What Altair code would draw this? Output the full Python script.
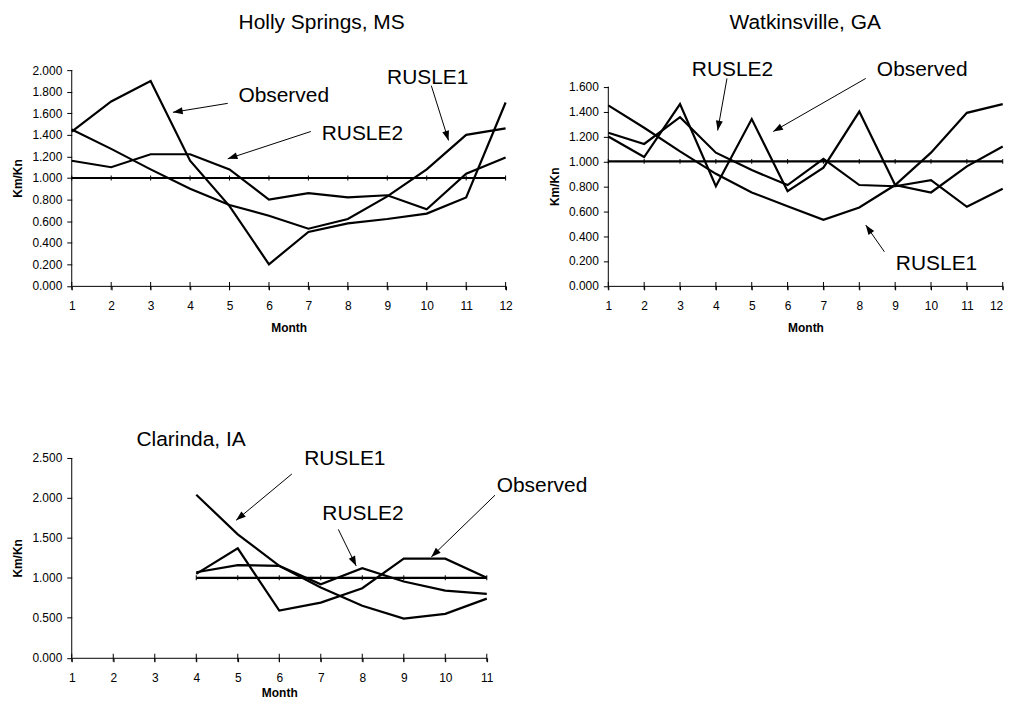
import math
import altair as alt
import pandas as pd

FONT = "Liberation Sans"
INK = "black"

# ---------------- Holly Springs, MS ----------------
hs_months = list(range(1, 13))
hs_observed = [1.43, 1.71, 1.90, 1.16, 0.74, 0.20, 0.50, 0.58, 0.62, 0.67, 0.82, 1.70]
hs_rusle1 = [1.45, 1.27, 1.08, 0.90, 0.75, 0.65, 0.53, 0.62, 0.83, 1.08, 1.40, 1.46]
hs_rusle2 = [1.16, 1.10, 1.22, 1.22, 1.08, 0.80, 0.86, 0.82, 0.84, 0.71, 1.04, 1.19]
hs_y_ticks = [0.0, 0.2, 0.4, 0.6, 0.8, 1.0, 1.2, 1.4, 1.6, 1.8, 2.0]

# ---------------- Watkinsville, GA ----------------
wv_months = list(range(1, 13))
wv_observed = [1.20, 1.035, 1.46, 0.80, 1.34, 0.76, 0.95, 1.40, 0.81, 0.75, 0.96, 1.12]
wv_rusle1 = [1.45, 1.27, 1.08, 0.90, 0.75, 0.64, 0.53, 0.63, 0.81, 1.07, 1.39, 1.46]
wv_rusle2 = [1.23, 1.14, 1.355, 1.07, 0.93, 0.81, 1.02, 0.81, 0.80, 0.85, 0.635, 0.78]
wv_y_ticks = [0.0, 0.2, 0.4, 0.6, 0.8, 1.0, 1.2, 1.4, 1.6]

# ---------------- Clarinda, IA ----------------
cl_months = [4, 5, 6, 7, 8, 9, 10, 11]
cl_observed = [1.05, 1.37, 0.59, 0.69, 0.87, 1.24, 1.24, 1.00]
cl_rusle1 = [2.04, 1.545, 1.15, 0.88, 0.65, 0.49, 0.55, 0.74]
cl_rusle2 = [1.07, 1.16, 1.15, 0.92, 1.12, 0.955, 0.84, 0.80]
cl_y_ticks = [0.0, 0.5, 1.0, 1.5, 2.0, 2.5]

REFERENCE_RATIO = 1.0

# ---------------- annotations (month, Km/Kn) ----------------
hs_title = "Holly Springs, MS"
hs_title_month, hs_title_value = 5.23, 2.385
hs_notes = ["Observed", "RUSLE2", "RUSLE1"]
hs_note_month = [5.225, 7.338, 8.995]
hs_note_value = [1.702, 1.354, 1.871]
hs_arrow_from_month = [4.955, 7.061, 10.116]
hs_arrow_from_value = [1.692, 1.431, 1.856]
hs_arrow_to_month = [3.566, 4.955, 10.553]
hs_arrow_to_value = [1.609, 1.178, 1.348]

wv_title = "Watkinsville, GA"
wv_title_month, wv_title_value = 4.38, 2.066
wv_notes = ["RUSLE2", "Observed", "RUSLE1"]
wv_note_month = [3.33, 8.49, 9.02]
wv_note_value = [1.688, 1.688, 0.128]
wv_arrow_from_month = [4.31, 8.18, 8.70]
wv_arrow_from_value = [1.666, 1.666, 0.274]
wv_arrow_to_month = [4.05, 5.60, 8.18]
wv_arrow_to_value = [1.248, 1.240, 0.488]

cl_title = "Clarinda, IA"
cl_title_month, cl_title_value = 2.560, 2.654
cl_notes = ["RUSLE1", "RUSLE2", "Observed"]
cl_note_month = [6.599, 7.038, 11.238]
cl_note_value = [2.417, 1.723, 2.076]
cl_arrow_from_month = [6.304, 7.422, 11.199]
cl_arrow_from_value = [2.300, 1.607, 2.035]
cl_arrow_to_month = [4.960, 7.854, 9.663]
cl_arrow_to_value = [1.720, 1.150, 1.262]

ARROW_HEAD = "M0,0L-0.36,1L0.36,1Z"


def panel(months, obs, r1, r2, x_ticks, y_ticks, y_view_max, width, height,
          title, title_m, title_v, notes, note_m, note_v,
          af_m, af_v, at_m, at_v, y_title_y=None, x_title_pad=11,
          last_label_right=False):
    xmin, xmax = x_ticks[0], x_ticks[-1]
    px_x = width / (xmax - xmin)
    px_y = height / y_view_max

    rows = []
    for name, vals in [("Observed", obs), ("RUSLE1", r1), ("RUSLE2", r2),
                       ("Ratio", [REFERENCE_RATIO] * len(months))]:
        for m, v in zip(months, vals):
            rows.append({"month": m, "value": v, "series": name})
    df = pd.DataFrame(rows)
    ref_df = df[df.series == "Ratio"]

    xs = alt.Scale(domain=[xmin, xmax], nice=False, zero=False)
    ys = alt.Scale(domain=[0, y_view_max], nice=False, zero=True)

    x_kw = dict(values=x_ticks, format="d", title="Month", tickSize=4,
                labelPadding=11, titlePadding=x_title_pad, labelFlush=False,
                labelOverlap=False)
    if last_label_right:
        x_kw["labelAlign"] = {"condition": {"test": f"datum.value == {xmax}",
                                            "value": "right"},
                              "value": "center"}
    x_axis = alt.Axis(**x_kw)
    y_kw = dict(values=y_ticks, format=".3f", title="Km/Kn", tickSize=5,
                labelPadding=5, titlePadding=7, domain=False, labelOverlap=False)
    if y_title_y is not None:
        y_kw["titleY"] = y_title_y
    y_axis = alt.Axis(**y_kw)

    X = alt.X("month:Q", scale=xs, axis=x_axis)
    Y = alt.Y("value:Q", scale=ys, axis=y_axis)

    lines = alt.Chart(df).mark_line(color=INK, strokeWidth=2.2).encode(
        x=X, y=Y, detail="series:N")

    dom_df = pd.DataFrame({"value": [y_ticks[0]], "value2": [y_ticks[-1]]})
    y_domain = alt.Chart(dom_df).mark_rule(color=INK, strokeWidth=1).encode(
        x=alt.value(0), y=Y, y2="value2:Q")

    xtick_df = pd.DataFrame({"month": x_ticks, "value": [0.0] * len(x_ticks)})
    x_cross = alt.Chart(xtick_df).mark_tick(
        orient="vertical", size=8, thickness=1, color=INK, opacity=1
    ).encode(x=X, y=Y)

    ref_ticks = alt.Chart(ref_df).mark_tick(
        orient="vertical", size=5, thickness=1, color=INK, opacity=1
    ).encode(x=X, y=Y)

    notes_df = pd.DataFrame({"label": notes + [title],
                             "month": note_m + [title_m],
                             "value": note_v + [title_v]})
    texts = alt.Chart(notes_df).mark_text(
        align="left", baseline="alphabetic", fontSize=21, font=FONT, color=INK
    ).encode(x=X, y=Y, text="label:N")

    angles = []
    for m0, v0, m1, v1 in zip(af_m, af_v, at_m, at_v):
        dx = (m1 - m0) * px_x
        dy = -(v1 - v0) * px_y
        angles.append(math.degrees(math.atan2(dx, -dy)) % 360)
    arrow_df = pd.DataFrame({"month2": af_m, "value2": af_v, "month": at_m,
                             "value": at_v, "ang": angles})
    shafts = alt.Chart(arrow_df).mark_rule(color=INK, strokeWidth=1).encode(
        x=X, y=Y, x2="month2:Q", y2="value2:Q")
    heads = alt.Chart(arrow_df).mark_point(
        shape=ARROW_HEAD, filled=True, color=INK, opacity=1, size=380,
        strokeWidth=0
    ).encode(x=X, y=Y, angle=alt.Angle("ang:Q", scale=None))

    return alt.layer(lines, y_domain, x_cross, ref_ticks, texts, shafts, heads).properties(
        width=width, height=height)


tl = panel(hs_months, hs_observed, hs_rusle1, hs_rusle2, list(range(1, 13)),
           hs_y_ticks, 2.0, 435.6, 216.6,
           hs_title, hs_title_month, hs_title_value, hs_notes, hs_note_month,
           hs_note_value, hs_arrow_from_month, hs_arrow_from_value,
           hs_arrow_to_month, hs_arrow_to_value)

tr = panel(wv_months, wv_observed, wv_rusle1, wv_rusle2, list(range(1, 13)),
           wv_y_ticks, 216.6 / 125.0, 396.0, 216.6,
           wv_title, wv_title_month, wv_title_value, wv_notes, wv_note_month,
           wv_note_value, wv_arrow_from_month, wv_arrow_from_value,
           wv_arrow_to_month, wv_arrow_to_value, y_title_y=116.6,
           last_label_right=True)

bl = panel(cl_months, cl_observed, cl_rusle1, cl_rusle2, list(range(1, 12)),
           cl_y_ticks, 2.5, 416.7, 200.6,
           cl_title, cl_title_month, cl_title_value, cl_notes, cl_note_month,
           cl_note_value, cl_arrow_from_month, cl_arrow_from_value,
           cl_arrow_to_month, cl_arrow_to_value, x_title_pad=4)

chart = alt.concat(
    tl, tr, bl, columns=2, bounds="flush", align="none",
    spacing={"row": 172.4, "column": 102.7}
).properties(
    padding={"left": 3, "top": 2, "right": 0, "bottom": 0}
).configure_view(stroke=None).configure_axis(
    labelFont=FONT, titleFont=FONT, labelColor=INK, titleColor=INK,
    domainColor=INK, tickColor=INK, labelFontSize=12, titleFontSize=12,
    titleFontWeight="bold", grid=False, domainWidth=1, tickWidth=1
)

chart.save("out.html", embed_options={"renderer": "svg", "actions": False})
